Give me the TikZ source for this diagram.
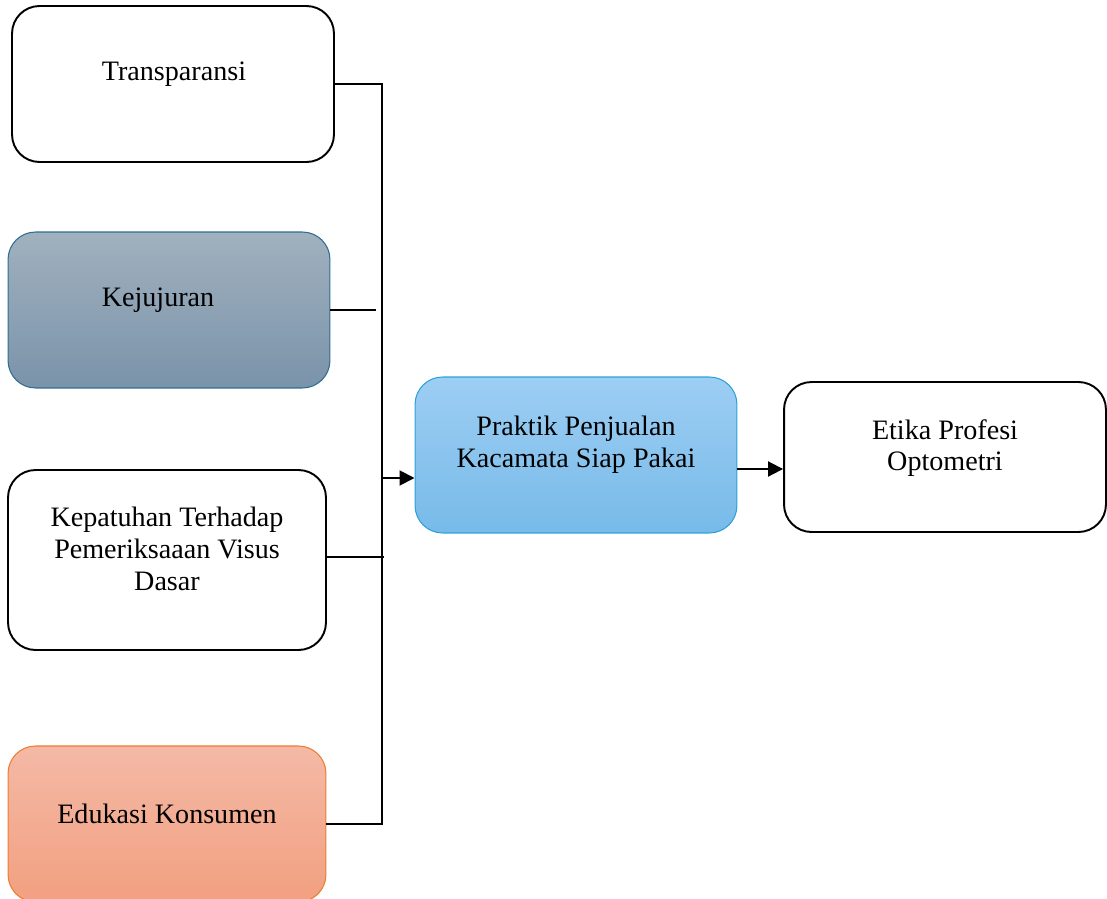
\documentclass[tikz,border=0pt]{standalone}
\usepackage{fontspec}
\setmainfont{Liberation Serif}
\usetikzlibrary{arrows.meta}
\definecolor{kjtop}{RGB}{161,177,190}
\definecolor{kjbot}{RGB}{122,147,170}
\definecolor{kjline}{RGB}{48,110,145}
\definecolor{prtop}{RGB}{157,206,243}
\definecolor{prbot}{RGB}{119,186,233}
\definecolor{prline}{RGB}{46,161,217}
\definecolor{edtop}{RGB}{244,185,166}
\definecolor{edbot}{RGB}{242,160,128}
\definecolor{edline}{RGB}{237,125,49}
\tikzset{
  box/.style={rectangle, rounded corners=0.55cm, minimum width=6.44cm, minimum height=3.12cm, inner sep=0pt},
  plainbox/.style={box, draw=black, line width=1.1pt, fill=white},
  lbl/.style={align=center, inner sep=0pt, font=\fontsize{16}{18}\selectfont},
  conn/.style={draw=black, line width=1.1pt},
  arr/.style={conn, -{Triangle[length=0.3cm, width=0.3cm]}}
}
\begin{document}
\begin{tikzpicture}[x=0.02cm, y=-0.02cm]
\useasboundingbox (0,0) rectangle (1107,899);
\clip (0,0) rectangle (1107,899);
% boxes
\node[plainbox] (tr) at (173,84) {};
\node[box, draw=kjline, line width=0.6pt, top color=kjtop, bottom color=kjbot] (kj) at (169,310) {};
\node[plainbox, minimum width=6.36cm, minimum height=3.6cm] (kp) at (167,560) {};
\node[box, draw=edline, line width=0.6pt, top color=edtop, bottom color=edbot, minimum width=6.36cm] (ed) at (167,824) {};
\node[box, draw=prline, line width=0.6pt, top color=prtop, bottom color=prbot] (pr) at (576,455) {};
\node[plainbox, minimum height=3.0cm] (et) at (945,457) {};
% labels
\node[lbl] (trl) at (174,74) {Transparansi};
\node[lbl] (kjl) at (158,300) {Kejujuran};
\node[lbl] (kpl) at (167,549) {Kepatuhan Terhadap\\Pemeriksaaan Visus\\Dasar};
\node[lbl] (edl) at (167,814) {Edukasi Konsumen};
\node[lbl] (prl) at (576,445) {Praktik Penjualan\\Kacamata Siap Pakai};
\node[lbl] (etl) at (945,448) {Etika Profesi\\Optometri};
% connectors
\coordinate (jt) at (382,84);
\coordinate (jb) at (382,824);
\coordinate (jk) at (376,310);
\coordinate (jp) at (384,557);
\coordinate (ja) at (382,478);
\coordinate (jr) at (737,469);
\draw[conn] (tr.east) -- (jt) -- (jb) -- (ed.east);
\draw[conn] (kj.east) -- (jk);
\draw[conn] (kp.east |- jp) -- (jp);
\draw[arr] (ja) -- (pr.west |- ja);
\draw[arr] (jr) -- (et.west |- jr);
\end{tikzpicture}
\end{document}
